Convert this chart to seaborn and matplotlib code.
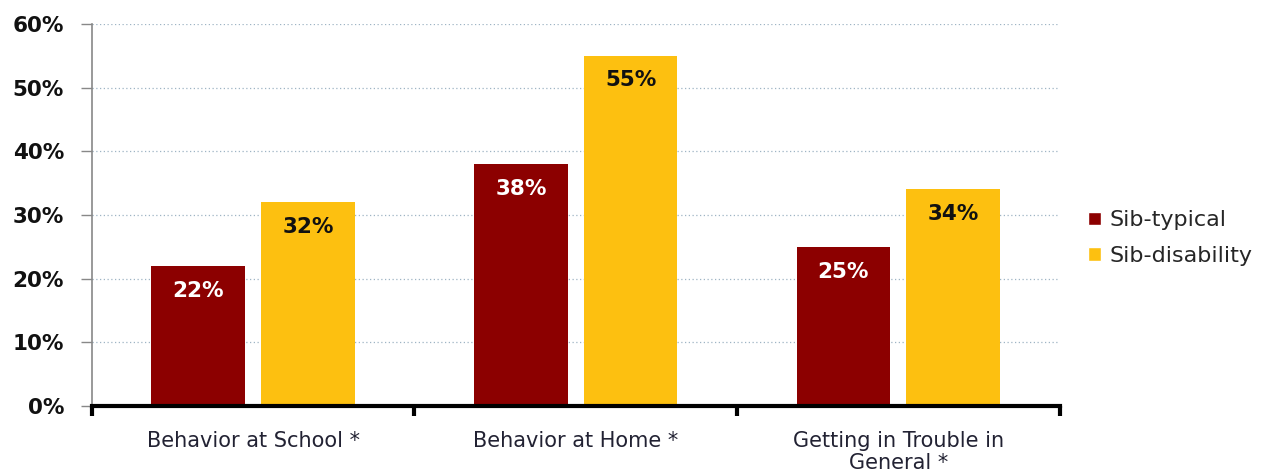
import matplotlib
matplotlib.use("Agg")
import matplotlib.pyplot as plt
import seaborn as sns
import pandas as pd
from matplotlib.ticker import FixedLocator
from matplotlib.patches import Patch

categories = ["Behavior at School *", "Behavior at Home *", "Getting in Trouble in\nGeneral *"]
series_names = ["Sib-typical", "Sib-disability"]
sib_typical = [22, 38, 25]
sib_disability = [32, 55, 34]
y_ticks = [0, 10, 20, 30, 40, 50, 60]
colors = ["#8C0000", "#FDC010"]

df = pd.DataFrame({
    "category": categories * 2,
    "series": [series_names[0]] * 3 + [series_names[1]] * 3,
    "value": sib_typical + sib_disability,
})

sns.set_style("white")
plt.rcParams["font.family"] = ["DejaVu Sans"]

fig = plt.figure(figsize=(12.75, 4.76), dpi=100)
ax = fig.add_axes([0.072, 0.147, 0.759, 0.803])

sns.barplot(data=df, x="category", y="value", hue="series", palette=colors,
            width=0.68, gap=0.147, ax=ax, legend=False, saturation=1, linewidth=0)

ax.set_ylim(0, 60)
ax.set_xlim(-0.5, 2.5)
ax.set_yticks(y_ticks)
ax.set_yticklabels([f"{t}%" for t in y_ticks], fontsize=15.5, fontweight="bold", color="#111111")
ax.set_xlabel("")
ax.set_ylabel("")

for t in y_ticks[1:]:
    ax.axhline(t, color="#9fb4c4", linestyle=(0, (1, 2)), linewidth=0.9, zorder=0)

for c, name in zip(ax.containers, series_names):
    txtcol = "white" if name == "Sib-typical" else "#111111"
    for bar in c:
        h = bar.get_height()
        ax.text(bar.get_x() + bar.get_width() / 2, h - 3.9, f"{h:.0f}%",
                ha="center", va="center", fontsize=15.5, fontweight="bold", color=txtcol)

for s in ["top", "right"]:
    ax.spines[s].set_visible(False)
ax.spines["left"].set_color("#888888")
ax.spines["left"].set_linewidth(1.2)
ax.spines["bottom"].set_color("black")
ax.spines["bottom"].set_linewidth(3)

ax.tick_params(axis="y", which="major", direction="out", length=8, width=1, color="#888888", left=True, pad=12)
ax.xaxis.set_major_locator(FixedLocator([0, 1, 2]))
ax.set_xticklabels(categories, fontsize=15, color="#222233", linespacing=1.15)
ax.tick_params(axis="x", which="major", length=0, pad=18)
ax.xaxis.set_minor_locator(FixedLocator([-0.5, 0.5, 1.5, 2.5]))
ax.tick_params(axis="x", which="minor", direction="out", length=7, width=3, color="black", bottom=True)

handles = [Patch(facecolor=colors[0]), Patch(facecolor=colors[1])]
fig.legend(handles, series_names, loc="center left", bbox_to_anchor=(0.838, 0.5),
           frameon=False, fontsize=16, handlelength=0.55, handleheight=0.55,
           handletextpad=0.4, labelspacing=0.7)

fig.savefig("out.png", dpi=100)
